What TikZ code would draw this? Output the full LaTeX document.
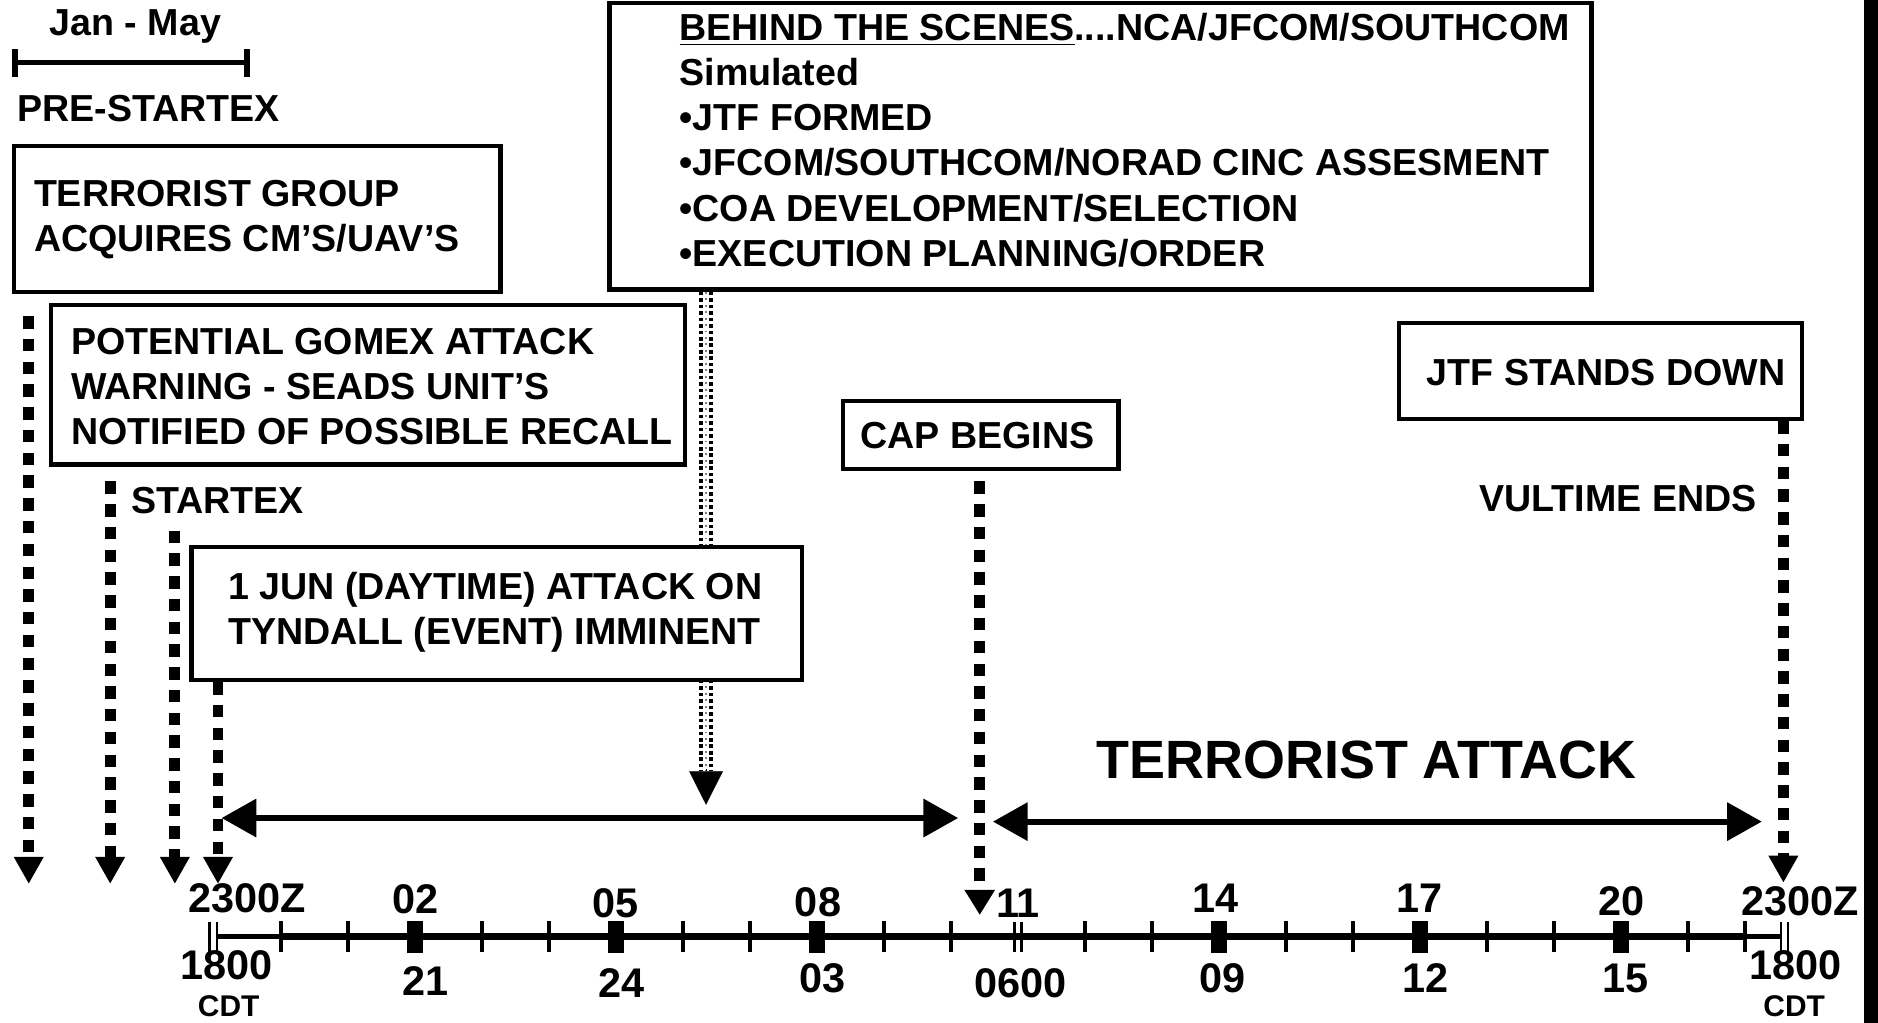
\documentclass[tikz,border=0pt]{standalone}
\usepackage{fontspec}
\setmainfont{Liberation Sans}
\usetikzlibrary{arrows.meta,calc}
\newcommand\myMain{\fontsize{15.7pt}{18.8pt}\selectfont\bfseries}
\newcommand\myNum{\fontsize{17.3pt}{20pt}\selectfont\bfseries}
\newcommand\myCdt{\fontsize{12.5pt}{15pt}\selectfont\bfseries}
\newcommand\myBig{\fontsize{22.5pt}{26pt}\selectfont\bfseries}
\tikzset{
  boxnode/.style={draw, line width=1.8pt, fill=white, rectangle, inner sep=0pt, anchor=north west},
  txt/.style={inner sep=0pt, font=\myMain, align=left},
  evline/.style={line width=4.5pt, dash pattern=on 5.2pt off 4.3pt, -{Triangle[width=11.7pt,length=11.3pt]}},
  capline/.style={line width=4.5pt, dash pattern=on 5.2pt off 4.3pt, -{Triangle[width=12pt,length=10.5pt]}},
  dotcol/.style={line width=1.6pt, dash pattern=on 1.5pt off 1.2pt},
  dotmid/.style={line width=0.7pt, gray, dash pattern=on 0.8pt off 1.9pt},
  dbl/.style={line width=2.6pt, {Triangle[width=15.5pt,length=14.5pt]}-{Triangle[width=15.5pt,length=14.5pt]}},
  axisline/.style={line width=2.9pt},
  axisthin/.style={line width=1.9pt},
  smalltick/.style={line width=1.7pt},
  thintick/.style={line width=1pt},
  numlab/.style={inner sep=0pt, font=\myNum, anchor=base},
  cdtlab/.style={inner sep=0pt, font=\myCdt, anchor=base},
}
\begin{document}
\begin{tikzpicture}[x=0.5pt,y=-0.5pt]
\useasboundingbox (0,0) rectangle (1568,854);

% scan border at right edge
\fill (1556,0) rectangle (1568,854);

% ---------- coordinates for connectors
\coordinate (e1s) at (24,264);   \coordinate (e1e) at (24,738);
\coordinate (e2s) at (92,402);   \coordinate (e2e) at (92,738);
\coordinate (e3s) at (146,443);  \coordinate (e3e) at (146,738);
\coordinate (e4e) at (182,738);
\coordinate (bsx) at (589.5,672);
\coordinate (bsh) at (589.5,644);
\coordinate (c1s) at (818,402);  \coordinate (c1e) at (818,764);
\coordinate (j1e) at (1489,737);
\coordinate (d1a) at (185,683);  \coordinate (d1b) at (800,683);
\coordinate (d2a) at (829,686);  \coordinate (d2b) at (1471,686);

% ---------- boxes
\node[boxnode, minimum width=410pt, minimum height=119.5pt] (bs) at (507,1) {};

% BEHIND THE SCENES connector (drawn before the boxes that hide it)
\draw[dotcol] ($(bs.south -| bsh)+(-4,0)$) -- ($(bsh)+(-4,0)$);
\draw[dotcol] ($(bs.south -| bsh)+(4,0)$) -- ($(bsh)+(4,0)$);
\draw[dotmid] (bs.south -| bsh) -- (bsh);
\draw[line width=0.1pt, -{Triangle[width=14pt,length=14pt]}] ($(bsh)+(0,-2)$) -- (bsx);

\node[boxnode, minimum width=203pt, minimum height=61pt] (b1) at (10,120) {};
\node[boxnode, minimum width=264.5pt, minimum height=66.5pt] (b2) at (41,253) {};
\node[boxnode, minimum width=255pt, minimum height=55.5pt] (b3) at (158,455) {};
\node[boxnode, minimum width=115pt, minimum height=28.5pt] (cap) at (702,333) {};
\node[boxnode, minimum width=168.5pt, minimum height=40pt] (jtf) at (1166,268) {};

% ---------- box texts
\node[txt, anchor=north west] (b1t) at (28,150) {TERRORIST GROUP\\ACQUIRES CM’S/UAV’S};
\node[txt, anchor=north west] (bst) at (567,11) {\underline{BEHIND THE SCENES}....NCA/JFCOM/SOUTHCOM\\Simulated\\•JTF FORMED\\•JFCOM/SOUTHCOM/NORAD CINC ASSESMENT\\•COA DEVELOPMENT/SELECTION\\•EXECUTION PLANNING/ORDER};
\node[txt, anchor=north west] (b2t) at (59,274) {POTENTIAL GOMEX ATTACK\\WARNING - SEADS UNIT’S\\NOTIFIED OF POSSIBLE RECALL};
\node[txt, anchor=north west] (b3t) at (190,477) {1 JUN (DAYTIME) ATTACK ON\\TYNDALL (EVENT) IMMINENT};
\node[txt] (capt) at (816,363.5) {CAP BEGINS};
\node[txt] (jtft) at (1341,311) {JTF STANDS DOWN};

% ---------- free labels
\node[txt, anchor=north west] (jan) at (41,8) {Jan - May};
\node[txt, anchor=north west] (pre) at (14,79) {PRE-STARTEX};
\node[txt, anchor=north west] (stx) at (109,406) {STARTEX};
\node[txt, anchor=north east] (vul) at (1467,405) {VULTIME ENDS};
\node[inner sep=0pt, font=\myBig, anchor=north] (ta) at (1141,618) {TERRORIST ATTACK};

% Jan - May bar
\coordinate (jb0) at (12.5,52); \coordinate (jb1) at (206,52);
\draw[line width=2pt] (jb0) -- (jb1);
\draw[line width=2.5pt] ($(jb0)+(0,-11)$) -- ($(jb0)+(0,12)$);
\draw[line width=2.5pt] ($(jb1)+(0,-11)$) -- ($(jb1)+(0,12)$);

% ---------- event arrows
\draw[evline] (e1s) -- (e1e);
\draw[evline] (e2s) -- (e2e);
\draw[evline] (e3s) -- (e3e);
\draw[evline] (b3.south -| e4e) -- (e4e);
\draw[capline] (c1s) -- (c1e);
\draw[evline] (jtf.south -| j1e) -- (j1e);

% ---------- duration arrows
\draw[dbl] (d1a) -- (d1b);
\draw[dbl] (d2a) -- (d2b);

% ---------- time axis
\coordinate (ax0) at (181,782); \coordinate (ax1) at (234.5,782);
\coordinate (ax2) at (1457,782); \coordinate (ax3) at (1487,782);
\draw[axisthin] (ax0) -- (ax1);
\draw[axisline] (ax1) -- (ax2);
\draw[axisthin] (ax2) -- (ax3);
\foreach \k in {1,2,4,5,7,8,10,11,13,14,16,17,19,20,22}
  \draw[smalltick] ({178.5+55.95*\k},769) -- ({178.5+55.95*\k},795);
\draw[smalltick] (1457,769) -- (1457,795);
\foreach \k in {3,6,9,15,18,21}
  \fill ({178.5+55.95*\k-6.5},769) rectangle ({178.5+55.95*\k+6.5},796);
\foreach \x in {175,181,847,853,1487,1493}
  \draw[thintick] (\x,770) -- (\x,795);

% top labels (Z)
\node[numlab] (z0) at (206.5,762) {2300Z};
\node[numlab] (z1) at (347,763) {02};
\node[numlab] (z2) at (514,766) {05};
\node[numlab] (z3) at (683,765) {08};
\node[numlab] (z4) at (850,766) {11};
\node[numlab] (z5) at (1015,762) {14};
\node[numlab] (z6) at (1185,762) {17};
\node[numlab] (z7) at (1354,764) {20};
\node[numlab] (z8) at (1503,764) {2300Z};

% bottom labels (CDT)
\node[numlab] (c0) at (189,818) {1800};
\node[numlab] (c1) at (355,831) {21};
\node[numlab] (c2) at (519,833) {24};
\node[numlab] (c3) at (687,829) {03};
\node[numlab] (c4) at (852,833) {0600};
\node[numlab] (c5) at (1021,829) {09};
\node[numlab] (c6) at (1190,829) {12};
\node[numlab] (c7) at (1357,829) {15};
\node[numlab] (c8) at (1499,818) {1800};
\node[cdtlab] (cd0) at (191,849) {CDT};
\node[cdtlab] (cd1) at (1498,849) {CDT};
\end{tikzpicture}
\end{document}
